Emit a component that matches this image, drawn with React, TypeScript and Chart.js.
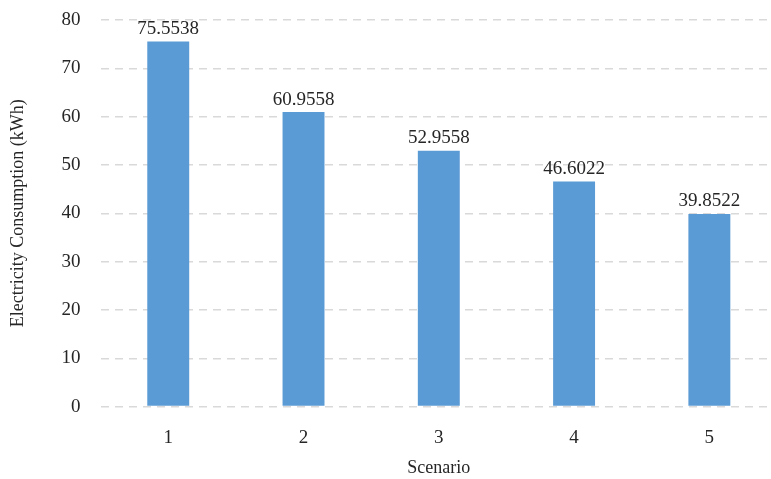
import React, { useEffect, useRef } from "react";
import { Chart, registerables } from "chart.js";

Chart.register(...registerables);

const categories = ["1", "2", "3", "4", "5"];
const values = [75.5538, 60.9558, 52.9558, 46.6022, 39.8522];
const valueLabels = ["75.5538", "60.9558", "52.9558", "46.6022", "39.8522"];

const FONT = '"Liberation Serif", "Times New Roman", serif';
const TEXT = "#262626";

const labelPlugin = {
  id: "barLabels",
  afterDatasetsDraw(chart: any) {
    const ctx = chart.ctx;
    const meta = chart.getDatasetMeta(0);
    ctx.save();
    ctx.font = `19px ${FONT}`;
    ctx.fillStyle = TEXT;
    ctx.textAlign = "center";
    ctx.textBaseline = "bottom";
    meta.data.forEach((bar: any, i: number) => {
      ctx.fillText(valueLabels[i], bar.x, bar.y - 3);
    });
    ctx.restore();
  },
};

export default function App() {
  const ref = useRef<HTMLCanvasElement>(null);
  useEffect(() => {
    document.body.style.margin = "0";
    const chart = new Chart(ref.current!, {
      type: "bar",
      data: {
        labels: categories,
        datasets: [
          {
            data: values,
            backgroundColor: "#5B9BD5",
            barPercentage: 0.31,
            categoryPercentage: 1,
          },
        ],
      },
      options: {
        animation: false,
        responsive: false,
        layout: { padding: { top: 0, right: 0, left: 4, bottom: 0 } },
        plugins: { legend: { display: false }, tooltip: { enabled: false } },
        scales: {
          x: {
            grid: { display: false, drawTicks: false },
            border: { display: false },
            ticks: { color: TEXT, font: { family: FONT, size: 19 }, padding: 20 },
            title: {
              display: true,
              text: "Scenario",
              color: TEXT,
              font: { family: FONT, size: 18 },
              padding: { top: -12, bottom: 0 },
            },
          },
          y: {
            min: 0,
            max: 80,
            afterFit: (scale: any) => {
              scale.paddingTop = 20;
            },
            ticks: { stepSize: 10, color: TEXT, font: { family: FONT, size: 19 }, padding: 20 },
            grid: { color: "#d9d9d9", lineWidth: 1.5, drawTicks: false },
            border: { display: false, dash: [8, 6] },
            title: {
              display: true,
              text: "Electricity Consumption (kWh)",
              color: TEXT,
              font: { family: FONT, size: 18 },
              padding: { top: 3, bottom: 13 },
            },
          },
        },
      },
      plugins: [labelPlugin],
    });
    return () => chart.destroy();
  }, []);
  return (
    <div style={{ position: "absolute", left: 0, top: 0, width: 771, height: 479, overflow: "hidden" }}>
      <canvas ref={ref} width={777} height={479} />
    </div>
  );
}
